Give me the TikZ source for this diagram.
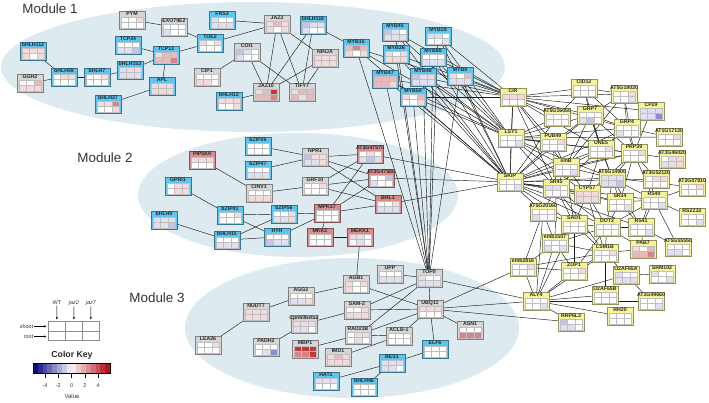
\documentclass[tikz,border=0pt]{standalone}
\usepackage{fontspec}
\setmainfont{Liberation Sans}
\usetikzlibrary{arrows.meta}

\definecolor{modfill}{RGB}{221,235,241}
\definecolor{blu}{RGB}{92,197,240}
\definecolor{gry}{RGB}{214,214,214}
\definecolor{pnk}{RGB}{217,140,140}
\definecolor{yel}{RGB}{247,243,152}
\definecolor{w0}{RGB}{255,255,255}
\definecolor{p1}{RGB}{244,218,218}
\definecolor{p2}{RGB}{235,185,185}
\definecolor{p3}{RGB}{220,130,130}
\definecolor{p4}{RGB}{200,55,55}
\definecolor{b1}{RGB}{224,224,242}
\definecolor{b2}{RGB}{196,196,232}
\definecolor{b3}{RGB}{140,140,212}
\definecolor{kblue}{RGB}{10,10,130}
\definecolor{kred}{RGB}{178,20,30}

\pgfdeclarelayer{modules}
\pgfdeclarelayer{links}
\pgfsetlayers{modules,links,main}

\tikzset{
  gbox/.style={draw=#1!60!black, fill=#1, line width=0.7pt, minimum width=26pt,
               minimum height=18pt, inner sep=0pt, outer sep=0pt},
  glabel/.style={font=\fontsize{5.2}{5.2}\selectfont\bfseries, inner sep=0pt, text=black!85},
  cell/.style={draw=black!25, line width=0.3pt},
  link/.style={draw=black!90, line width=0.45pt},
  module/.style={fill=modfill, draw=none},
  modtitle/.style={font=\fontsize{13.4}{13.4}\selectfont, text=black!80, inner sep=0pt},
  keytext/.style={font=\fontsize{5.5}{5.5}\selectfont, text=black!80, inner sep=0.5pt},
  keygrid/.style={draw=black!45, line width=0.7pt, fill=white},
  keyarrow/.style={-{Stealth[length=2.6pt,width=2.2pt]}, line width=0.5pt}
}

% box with name on top and a 3x2 grid of cells (shoot/root x WT, jaz2, jaz7)
\newcommand{\gene}[5]{%
  \node[gbox=#4] (#1) at (#2) {};
  \foreach \clr [count=\k from 0] in {#5} {%
    \pgfmathtruncatemacro{\cx}{mod(\k,3)}%
    \pgfmathtruncatemacro{\cy}{\k/3}%
    \filldraw[cell, fill=\clr] ([xshift=2pt+\cx*7.333pt, yshift=-6pt-\cy*5.4pt]#1.north west)
      rectangle ++(7.333pt,-5.4pt);
  }%
  \node[glabel] at ([yshift=-3pt]#1.north) {#3};
}

\begin{document}
\begin{tikzpicture}[x=1pt, y=-1pt]
  \useasboundingbox (0,0) rectangle (709,402);

  \begin{pgfonlayer}{modules}
    \fill[module] (253,67) ellipse [x radius=252, y radius=65];
    \fill[module] (298,195) ellipse [x radius=160, y radius=62];
    \fill[module] (352,328) ellipse [x radius=167, y radius=70];
  \end{pgfonlayer}

  \node[modtitle] (mod1) at (50,9) {Module 1};
  \node[modtitle] (mod2) at (105,158) {Module 2};
  \node[modtitle] (mod3) at (157,298) {Module 3};

  % module 1
  \gene{PYM}{132,20}{PYM}{gry}{w0,w0,p1,w0,w0,w0}
  \gene{EXO79E2}{174,27}{EXO79E2}{gry}{w0,w0,w0,b1,w0,w0}
  \gene{FRS3}{222,20}{FRS3}{blu}{b1,w0,w0,b1,b1,b1}
  \gene{TCP24}{128,45}{TCP24}{blu}{w0,w0,w0,b1,b1,b2}
  \gene{TOE2}{210,43}{TOE2}{blu}{p1,w0,p1,w0,w0,w0}
  \gene{TCP13}{166,55}{TCP13}{blu}{p1,p2,p2,p2,p2,p3}
  \gene{bHLH112}{33,51}{bHLH112}{blu}{p1,p1,p1,p1,w0,p1}
  \gene{bHLH59}{64,77}{bHLH59}{blu}{w0,p1,p1,w0,w0,w0}
  \gene{bHLH7}{97,77}{bHLH7}{blu}{w0,w0,p1,w0,w0,w0}
  \gene{bHLH153}{130,70}{bHLH153}{blu}{b1,p1,p1,b1,b1,b1}
  \gene{GGH2}{30,83}{GGH2}{gry}{w0,w0,p2,p1,p1,p1}
  \gene{APL}{162,86}{APL}{blu}{p1,p1,p1,p1,p1,p1}
  \gene{bHLH27}{108,104}{bHLH27}{blu}{p1,p1,p3,w0,w0,p1}
  \gene{CIP1}{207,77}{CIP1}{gry}{w0,w0,w0,p1,p1,w0}
  \gene{COI1}{247,52}{COI1}{gry}{b2,b1,w0,b1,w0,w0}
  \gene{bHLH13}{229,101}{bHLH13}{blu}{p1,p1,p1,w0,w0,p1}
  \gene{JAZ3}{277,24}{JAZ3}{gry}{p1,p2,p1,p1,w0,p1}
  \gene{bHLH116}{313,25}{bHLH116}{blu}{b2,b1,b1,b1,w0,w0}
  \gene{MYB15}{356,48}{MYB15}{blu}{p2,p3,p2,p1,w0,p1}
  \gene{NINJA}{325,58}{NINJA}{gry}{p1,p1,p1,p1,p1,p1}
  \gene{JAZ10}{266,92}{JAZ10}{gry}{p1,p2,p4,p2,p2,p3}
  \gene{TIFY7}{302,92}{TIFY7}{gry}{p1,p2,p2,p2,p1,p2}
  \gene{MYB45}{395,32}{MYB45}{blu}{b2,b1,w0,b1,b1,b1}
  \gene{MYB28}{438,36}{MYB28}{blu}{b1,b1,w0,w0,w0,b1}
  \gene{MYB36}{396,54}{MYB36}{blu}{p1,w0,p1,p1,p1,p1}
  \gene{MYB88}{433,57}{MYB88}{blu}{w0,w0,w0,b1,b1,b1}
  \gene{MYB47}{385,79}{MYB47}{blu}{p2,p2,p2,p2,p2,p1}
  \gene{MYB48}{423,77}{MYB48}{blu}{b2,b1,p1,b1,b1,b1}
  \gene{MYB9}{460,76}{MYB9}{blu}{p1,w0,p2,b1,b1,b1}
  \gene{MYB50}{413,97}{MYB50}{blu}{p1,w0,p2,w0,w0,p1}

  % module 2
  \gene{bZIP26}{258,146}{bZIP26}{blu}{w0,w0,w0,w0,w0,w0}
  \gene{PIP5K9}{202,160}{PIP5K9}{pnk}{p1,p1,p1,w0,w0,w0}
  \gene{NPR1}{315,157}{NPR1}{gry}{b2,p1,p1,b1,b1,p1}
  \gene{bZIP47}{258,170}{bZIP47}{blu}{w0,w0,w0,b1,b1,b1}
  \gene{GPRI1}{178,186}{GPRI1}{blu}{w0,p1,p1,w0,p1,p1}
  \gene{CINV1}{259,193}{CINV1}{gry}{w0,w0,w0,p1,p1,p1}
  \gene{GRF10}{315,186}{GRF10}{gry}{w0,w0,p1,w0,w0,w0}
  \gene{bZIP41}{230,215}{bZIP41}{blu}{w0,w0,p1,w0,w0,w0}
  \gene{bZIP56}{284,214}{bZIP56}{blu}{w0,w0,p1,b1,b1,p1}
  \gene{MPK17}{327,213}{MPK17}{pnk}{w0,w0,w0,w0,w0,w0}
  \gene{bHLH9}{164,220}{bHLH9}{blu}{b1,b1,b1,b1,b1,b2}
  \gene{bHLH15}{227,240}{bHLH15}{blu}{w0,w0,w0,b1,b1,b1}
  \gene{HYH}{277,237}{HYH}{blu}{w0,w0,w0,b2,b1,b1}
  \gene{MKK2}{320,237}{MKK2}{pnk}{w0,w0,w0,w0,w0,w0}
  \gene{MEKK1}{360,237}{MEKK1}{pnk}{p1,b1,w0,w0,b1,w0}
  \gene{AT3G47570}{370,154}{AT3G47570}{pnk}{w0,p1,w0,b1,b2,b1}
  \gene{AT3G47580}{381,178}{AT3G47580}{pnk}{w0,w0,b2,b1,w0,w0}
  \gene{BRL1}{388,204}{BRL1}{pnk}{w0,w0,p1,b1,b1,b1}

  % module 3
  \gene{AGB1}{356,284}{AGB1}{gry}{p1,w0,p1,p1,w0,w0}
  \gene{UPP}{390,274}{UPP}{gry}{w0,w0,w0,b1,b1,b1}
  \gene{TOPII}{429,278}{TOPII}{gry}{b1,w0,w0,b1,b1,b1}
  \gene{AGG2}{301,296}{AGG2}{gry}{w0,w0,w0,b1,b1,p1}
  \gene{UBQ11}{430,309}{UBQ11}{gry}{p1,p1,p1,w0,w0,w0}
  \gene{SAM2}{357,310}{SAM-2}{gry}{w0,w0,p1,p1,p1,p1}
  \gene{NUDT7}{256,312}{NUDT7}{gry}{p1,p1,p1,p1,p1,p1}
  \gene{Cpn60beta2}{304,324}{Cpn60beta2}{gry}{p1,p1,b1,b1,b1,w0}
  \gene{ASN1}{470,330}{ASN1}{gry}{w0,w0,w0,p3,p3,p3}
  \gene{LEA26}{208,345}{LEA26}{gry}{w0,w0,p1,w0,w0,w0}
  \gene{PADH2}{266,347}{PADH2}{gry}{w0,w0,w0,w0,b1,b3}
  \gene{MBP1}{305,349}{MBP1}{gry}{p4,p4,p4,p3,p3,p4}
  \gene{RAD23B}{358,335}{RAD23B}{gry}{w0,p1,p1,w0,b1,w0}
  \gene{ACLB1}{399,336}{ACLB-1}{gry}{w0,w0,w0,w0,w0,w0}
  \gene{IMD1}{338,357}{IMD1}{gry}{p1,p2,p1,p1,p1,p1}
  \gene{ELF6}{435,349}{ELF6}{blu}{w0,w0,w0,w0,w0,w0}
  \gene{BES1}{392,363}{BES1}{blu}{b1,b1,b1,b1,b1,w0}
  \gene{HAT1}{326,381}{HAT1}{blu}{b1,b1,b1,w0,w0,w0}
  \gene{bHLH46}{364,387}{bHLH46}{blu}{w0,w0,w0,w0,w0,w0}

  % spliceosome cluster
  \gene{CID12}{584,88}{CID12}{yel}{w0,w0,w0,w0,w0,w0}
  \gene{AT5G19030}{624,94}{AT5G19030}{yel}{w0,w0,p1,w0,w0,b1}
  \gene{CIR}{513,97}{CIR}{yel}{p1,p1,p1,w0,w0,w0}
  \gene{AT5G16050}{557,117}{AT5G16050}{yel}{w0,w0,w0,w0,w0,w0}
  \gene{GRP7}{590,115}{GRP7}{yel}{w0,w0,w0,b1,b2,w0}
  \gene{CP29}{651,111}{CP29}{yel}{b1,b1,b1,b1,b1,b3}
  \gene{GRP4}{627,128}{GRP4}{yel}{w0,w0,w0,b1,w0,w0}
  \gene{AT1G17130}{669,137}{AT1G17130}{yel}{w0,w0,p1,w0,w0,w0}
  \gene{LSY1}{511,138}{LSY1}{yel}{w0,w0,w0,w0,w0,b1}
  \gene{PUB49}{553,142}{PUB49}{yel}{w0,w0,p1,w0,w0,w0}
  \gene{UNE5}{601,149}{UNE5}{yel}{w0,w0,p1,w0,w0,w0}
  \gene{PRP39}{634,153}{PRP39}{yel}{w0,w0,p1,w0,w0,w0}
  \gene{AT3G46020}{672,159}{AT3G46020}{yel}{w0,p1,p1,b1,b1,p1}
  \gene{smB}{566,167}{smB}{yel}{w0,w0,w0,w0,w0,b1}
  \gene{AT5G14900}{612,178}{AT5G14900}{yel}{b1,b1,b1,b1,b1,b2}
  \gene{AT3G52120}{656,179}{AT3G52120}{yel}{w0,p1,p1,w0,w0,w0}
  \gene{AT3G07810}{692,187}{AT3G07810}{yel}{w0,w0,p1,w0,w0,w0}
  \gene{SKIP}{510,182}{SKIP}{yel}{w0,w0,w0,w0,w0,b1}
  \gene{SR45}{556,188}{SR45}{yel}{b1,b1,w0,w0,w0,w0}
  \gene{CYP57}{587,194}{CYP57}{yel}{p1,p1,p1,p1,p1,p1}
  \gene{SR34}{620,202}{SR34}{yel}{w0,w0,w0,w0,w0,b1}
  \gene{RS40}{654,200}{RS40}{yel}{w0,w0,w0,w0,w0,b1}
  \gene{AT5G20160}{543,212}{AT5G20160}{yel}{w0,w0,w0,b1,w0,w0}
  \gene{RS2Z32}{692,217}{RS2Z32}{yel}{w0,w0,w0,w0,w0,b1}
  \gene{SAD1}{574,224}{SAD1}{yel}{w0,w0,w0,w0,w0,w0}
  \gene{DOT2}{607,227}{DOT2}{yel}{w0,w0,w0,w0,w0,w0}
  \gene{RS41}{641,227}{RS41}{yel}{w0,w0,w0,w0,w0,b1}
  \gene{emb1507}{555,243}{emb1507}{yel}{w0,w0,w0,b1,w0,b1}
  \gene{AT5G55550}{678,247}{AT5G55550}{yel}{w0,w0,w0,b1,b1,w0}
  \gene{PAB7}{643,249}{PAB7}{yel}{p1,w0,p2,p2,p2,p3}
  \gene{LSM1B}{605,253}{LSM1B}{yel}{w0,w0,p1,w0,w0,w0}
  \gene{emb2816}{523,267}{emb2816}{yel}{w0,w0,p1,w0,w0,w0}
  \gene{ZOP1}{574,271}{ZOP1}{yel}{w0,w0,p1,w0,w0,w0}
  \gene{U2AF65A}{626,275}{U2AF65A}{yel}{b1,w0,w0,b1,b1,b1}
  \gene{SRM102}{662,274}{SRM102}{yel}{b1,w0,w0,w0,w0,b1}
  \gene{U2AF65B}{605,295}{U2AF65B}{yel}{w0,w0,w0,w0,w0,w0}
  \gene{ALY4}{536,301}{ALY4}{yel}{w0,w0,w0,w0,w0,b1}
  \gene{AT1G09660}{651,301}{AT1G09660}{yel}{w0,w0,w0,w0,w0,b1}
  \gene{RH20}{620,316}{RH20}{yel}{w0,w0,w0,w0,w0,w0}
  \gene{RRP6L3}{571,322}{RRP6L3}{yel}{b2,w0,w0,b1,b1,w0}

  \begin{pgfonlayer}{links}
    % module 1
    \foreach \a/\b in {PYM/EXO79E2, EXO79E2/TOE2, TOE2/TCP13, TCP24/TCP13, TCP13/APL,
        bHLH153/TCP13, bHLH112/bHLH59, GGH2/bHLH59, bHLH59/bHLH7, bHLH7/bHLH153,
        APL/bHLH27, CIP1/COI1, JAZ3/FRS3, JAZ3/TOE2, JAZ3/JAZ10, JAZ3/TIFY7, JAZ3/NINJA,
        COI1/JAZ10, COI1/TIFY7, bHLH116/TIFY7, bHLH116/JAZ10, bHLH116/MYB15,
        NINJA/JAZ10, NINJA/TIFY7, JAZ10/bHLH13}
      \draw[link] (\a) -- (\b);
    \foreach \m in {MYB15,MYB45,MYB28,MYB36,MYB88,MYB47,MYB48,MYB9,MYB50}
      \foreach \h in {CIR,LSY1,SKIP,TOPII}
        \draw[link] (\m) -- (\h);
    % module 2
    \foreach \a/\b in {bZIP26/NPR1, bZIP47/NPR1, PIP5K9/CINV1, CINV1/GRF10, GPRI1/bZIP41,
        bZIP41/bZIP56, bZIP41/HYH, bHLH9/bHLH15, bHLH15/HYH, bHLH15/bZIP56,
        bZIP56/MPK17, HYH/MPK17, MPK17/MKK2, MKK2/MEKK1, NPR1/AT3G47570, NPR1/AT3G47580,
        NPR1/BRL1, GRF10/AT3G47570, GRF10/AT3G47580, GRF10/BRL1, MPK17/AT3G47570,
        MPK17/AT3G47580, MPK17/BRL1, AT3G47570/SKIP, AT3G47580/SKIP, BRL1/SKIP,
        MEKK1/AGB1}
      \draw[link] (\a) -- (\b);
    % module 3
    \foreach \a/\b in {UPP/TOPII, AGB1/AGG2, AGB1/UBQ11, AGG2/NUDT7, NUDT7/LEA26,
        SAM2/TOPII, SAM2/UBQ11, SAM2/Cpn60beta2, Cpn60beta2/PADH2, RAD23B/TOPII,
        RAD23B/UBQ11, RAD23B/MBP1, RAD23B/ACLB1, ACLB1/UBQ11, ACLB1/IMD1, TOPII/UBQ11,
        UBQ11/ASN1, UBQ11/ELF6, ELF6/BES1, BES1/HAT1, BES1/bHLH46, TOPII/ALY4,
        UBQ11/ALY4, UBQ11/RRP6L3, UBQ11/emb2816}
      \draw[link] (\a) -- (\b);
    % spliceosome cluster
    \foreach \h in {LSY1, CIR, AT5G16050, PUB49, GRP7, UNE5, smB, SR45, CYP57, AT5G14900,
        PRP39, AT5G20160, SR34, RS40, DOT2, GRP4, SAD1, RS41, AT3G52120}
      \draw[link] (SKIP) -- (\h);
    \foreach \h in {CID12, AT5G19030, AT5G16050, GRP7, LSY1, PUB49, UNE5, smB, CP29, GRP4, SR45}
      \draw[link] (CIR) -- (\h);
    \foreach \h in {AT5G16050, PUB49, GRP7, UNE5, smB, PRP39, GRP4, SR45, CYP57,
        AT5G14900, AT1G17130}
      \draw[link] (LSY1) -- (\h);
    \foreach \a/\b in {CID12/AT5G16050, CID12/GRP7, CID12/GRP4, CID12/AT5G19030, CID12/UNE5,
        AT5G19030/GRP7, AT5G19030/PRP39, AT5G19030/GRP4, AT5G19030/smB, CP29/GRP4,
        CP29/PRP39, CP29/UNE5, GRP7/GRP4, GRP7/UNE5, GRP7/smB, GRP7/PRP39, GRP7/PUB49,
        GRP7/AT5G14900, GRP4/PRP39, GRP4/UNE5, GRP4/AT1G17130, PRP39/UNE5,
        PRP39/AT3G46020, PRP39/AT5G14900, PRP39/AT3G52120, PRP39/smB, PRP39/SR34,
        PRP39/RS40, PRP39/CYP57, UNE5/smB, UNE5/AT5G14900, UNE5/SR45, UNE5/CYP57,
        PUB49/smB, PUB49/SR45, smB/SR45, smB/CYP57, smB/AT5G14900, smB/SAD1,
        AT5G14900/SR34, AT5G14900/RS40, AT5G14900/AT3G07810, AT5G14900/CYP57,
        AT5G14900/DOT2, AT5G14900/RS41, SR45/AT5G20160, SR45/SAD1, SR45/CYP57, SR45/DOT2,
        SR45/emb1507, SR45/LSM1B, CYP57/SR34, CYP57/SAD1, CYP57/DOT2, CYP57/LSM1B,
        SR34/RS40, SR34/DOT2, SR34/RS41, RS40/RS2Z32, RS40/RS41, RS40/AT3G07810,
        RS40/AT5G55550, RS40/DOT2, RS41/DOT2, RS41/PAB7, RS41/AT5G55550, RS41/AT3G52120,
        AT5G20160/emb1507, AT5G20160/emb2816, AT5G20160/SAD1, AT5G20160/ALY4, SAD1/DOT2,
        SAD1/emb1507, SAD1/LSM1B, SAD1/ZOP1, SAD1/ALY4, DOT2/LSM1B, DOT2/emb1507,
        DOT2/ZOP1, DOT2/PAB7, emb1507/emb2816, emb1507/ZOP1, emb1507/ALY4, emb1507/LSM1B,
        LSM1B/U2AF65B, LSM1B/ZOP1, LSM1B/U2AF65A, LSM1B/ALY4, LSM1B/PAB7, emb2816/ALY4,
        emb2816/ZOP1, emb2816/LSM1B, ZOP1/ALY4, U2AF65A/SRM102, U2AF65A/AT1G09660,
        U2AF65A/ALY4, U2AF65B/ALY4, ALY4/AT1G09660, ALY4/RH20, ALY4/RRP6L3}
      \draw[link] (\a) -- (\b);
  \end{pgfonlayer}

  % legend
  \foreach \i in {0,1,2}
    \foreach \j in {0,1}
      \draw[keygrid] ({48.3+\i*17},{321.7+\j*9.2}) rectangle ++(17,9.2);
  \node[keytext] (wt) at (57,303) {WT};
  \node[keytext] (jaz2) at (74,303) {\itshape jaz2};
  \node[keytext] (jaz7) at (91,303) {\itshape jaz7};
  \coordinate (wtin) at (56.8,319.5);
  \coordinate (jaz2in) at (73.8,319.5);
  \coordinate (jaz7in) at (90.8,319.5);
  \node[keytext, anchor=east] (shoot) at (34,326.3) {shoot};
  \node[keytext, anchor=east] (root) at (34,336.5) {root};
  \coordinate (shootin) at (46.5,326.3);
  \coordinate (rootin) at (46.5,336.5);
  \draw[keyarrow] (wt) -- (wtin);
  \draw[keyarrow] (jaz2) -- (jaz2in);
  \draw[keyarrow] (jaz7) -- (jaz7in);
  \draw[keyarrow] (shoot) -- (shootin);
  \draw[keyarrow] (root) -- (rootin);

  \node[font=\fontsize{8.7}{8.7}\selectfont\bfseries, text=black!85] (colkey) at (72,355) {Color Key};
  \foreach \i in {0,...,15} {
    \ifnum\i<8
      \pgfmathtruncatemacro{\pct}{100-\i*13}
      \fill[kblue!\pct!white] ({33+\i*4.8125},363) rectangle ++(4.8125,10);
    \else
      \pgfmathtruncatemacro{\pct}{9+(\i-8)*13}
      \fill[kred!\pct!white] ({33+\i*4.8125},363) rectangle ++(4.8125,10);
    \fi
  }
  \draw[line width=0.6pt] (33,363) rectangle (110,373);
  \foreach \v/\x [count=\n] in {-4/45,-2/58.3,0/71.6,2/84.9,4/98.2} {
    \draw[line width=0.5pt] (\x,373) -- (\x,378);
    \node[keytext] (tick\n) at (\x,386) {\v};
  }
  \node[keytext, font=\fontsize{6}{6}\selectfont] (valuelab) at (72,396.5) {Value};
\end{tikzpicture}
\end{document}
